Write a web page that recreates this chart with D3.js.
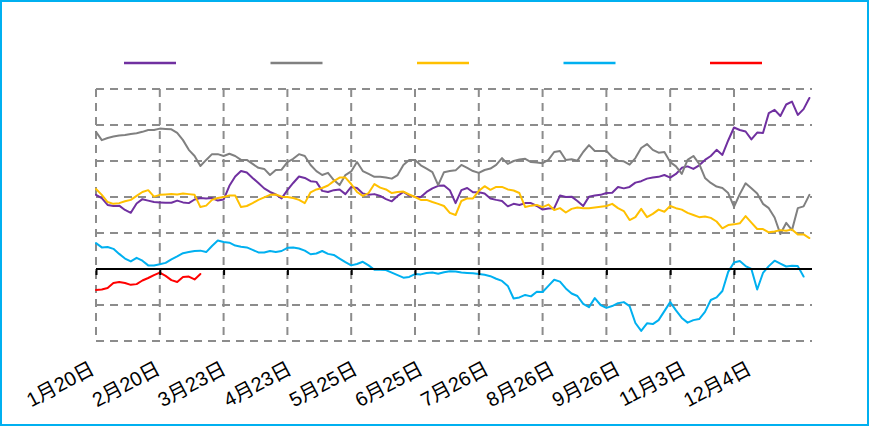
<!DOCTYPE html>
<html>
<head>
<meta charset="utf-8">
<script src="https://cdn.jsdelivr.net/npm/d3@7"></script>
<style>
  html, body { margin: 0; padding: 0; background: #fff; }
  svg { display: block; }
</style>
</head>
<body>
<svg id="chart" width="869" height="426"></svg>
<script>
// Axis labels (one every 11 samples)
const dateLabels = ["1月20日", "2月20日", "3月23日", "4月23日", "5月25日", "6月25日",
                    "7月26日", "8月26日", "9月26日", "11月3日", "12月4日"];
const labelStep = 11;

// Series, one value per sample
const purpleValues = [
  20.6, 19.7, 17.8, 17.5, 17.6, 16.4, 15.6, 18.2, 19.4, 19.0,
  18.6, 18.5, 18.4, 18.4, 19.0, 18.5, 18.3, 19.3, 19.7, 19.6,
  19.7, 19.0, 19.3, 23.1, 25.7, 27.2, 26.8, 25.3, 23.9, 22.4,
  21.4, 20.7, 19.6, 21.9, 23.9, 25.7, 25.3, 24.4, 24.2, 21.7,
  21.4, 21.9, 22.1, 20.8, 22.8, 22.5, 21.0, 20.6, 20.8, 20.3,
  19.4, 18.8, 20.3, 21.4, 20.4, 20.1, 20.0, 21.4, 22.4, 23.1,
  23.2, 21.9, 18.3, 21.9, 22.5, 21.3, 21.3, 21.0, 19.6, 19.2,
  18.9, 17.4, 18.1, 17.8, 18.3, 18.3, 17.5, 16.5, 16.8, 16.9,
  20.4, 20.0, 20.1, 18.9, 17.5, 20.1, 20.4, 20.6, 21.1, 21.2,
  22.8, 22.4, 22.8, 24.0, 24.4, 25.1, 25.4, 25.6, 26.1, 25.4,
  26.4, 28.1, 28.5, 27.8, 28.8, 30.3, 31.4, 33.1, 31.7, 35.7,
  39.3, 38.6, 38.2, 36.0, 37.9, 37.8, 43.3, 44.2, 42.5, 45.7,
  46.5, 42.8, 44.4, 47.5
];
const grayValues = [
  38.1, 35.8, 36.4, 36.8, 37.1, 37.2, 37.5, 37.7, 38.1, 38.6,
  38.6, 39.0, 38.9, 38.8, 37.8, 35.8, 33.1, 31.4, 28.6, 30.3,
  31.9, 31.9, 31.4, 32.0, 31.4, 30.3, 30.3, 29.2, 28.1, 27.8,
  26.1, 27.5, 27.6, 29.7, 30.6, 31.9, 31.4, 28.9, 27.2, 26.1,
  26.7, 24.7, 23.3, 26.1, 27.1, 29.7, 27.2, 26.4, 25.6, 25.6,
  25.4, 25.1, 26.1, 28.9, 30.3, 30.3, 28.8, 27.9, 26.9, 23.3,
  26.9, 27.2, 27.4, 28.9, 28.1, 27.2, 26.7, 27.5, 27.9, 28.9,
  30.8, 29.2, 30.0, 30.4, 30.6, 29.7, 29.6, 29.4, 30.3, 32.5,
  32.8, 30.3, 30.5, 30.1, 32.5, 34.4, 32.8, 32.8, 32.8, 31.1,
  30.1, 29.9, 29.0, 30.8, 33.6, 34.7, 33.1, 32.3, 32.5, 29.7,
  28.5, 26.4, 30.3, 31.4, 29.2, 25.3, 23.9, 22.9, 22.5, 21.1,
  17.3, 20.8, 23.8, 22.4, 21.0, 18.1, 16.9, 14.3, 9.7, 12.8,
  10.8, 16.9, 17.4, 20.6
];
const yellowValues = [
  22.2, 20.6, 18.6, 18.1, 18.3, 18.8, 19.2, 20.3, 21.4, 21.9,
  20.1, 20.6, 20.7, 20.8, 20.7, 21.0, 20.8, 20.6, 17.2, 17.6,
  19.2, 19.7, 20.0, 20.4, 20.4, 17.2, 17.5, 18.3, 19.2, 19.9,
  20.6, 20.7, 20.1, 20.0, 19.7, 19.2, 18.3, 21.3, 22.1, 22.5,
  23.2, 24.4, 25.4, 25.4, 23.6, 21.4, 20.3, 21.1, 23.6, 22.6,
  22.1, 21.1, 21.4, 21.5, 20.7, 20.0, 19.2, 19.2, 18.6, 18.1,
  17.5, 15.6, 15.0, 18.9, 19.6, 19.6, 21.7, 23.0, 22.0, 22.8,
  22.8, 22.1, 21.8, 21.1, 17.2, 17.6, 17.8, 17.2, 17.9, 16.4,
  16.9, 15.7, 16.7, 17.1, 16.9, 16.9, 17.1, 17.3, 17.5, 18.1,
  16.9, 16.1, 13.6, 14.4, 16.7, 14.4, 15.3, 16.5, 15.9, 17.5,
  16.9, 16.5, 15.6, 15.0, 14.4, 14.6, 14.2, 13.2, 11.3, 12.2,
  12.4, 12.7, 14.7, 12.9, 11.1, 11.1, 10.2, 10.4, 10.8, 10.6,
  11.0, 9.6, 9.6, 8.6
];
const cyanValues = [
  7.2, 6.0, 6.1, 5.6, 4.2, 2.9, 2.1, 3.1, 2.3, 1.0,
  1.0, 1.3, 1.7, 2.7, 3.5, 4.4, 4.7, 5.0, 5.1, 4.7,
  6.4, 7.9, 7.5, 7.3, 6.5, 6.2, 6.0, 5.3, 4.6, 4.6,
  5.0, 4.7, 5.0, 5.9, 6.0, 5.7, 5.1, 4.1, 4.3, 5.0,
  4.2, 3.9, 2.9, 1.9, 1.0, 1.4, 2.0, 1.0, -0.2, -0.2,
  -0.3, -1.0, -1.7, -2.4, -2.2, -1.4, -1.5, -1.1, -1.0, -1.3,
  -0.9, -0.6, -0.7, -1.0, -1.1, -1.2, -1.4, -1.6, -2.0, -2.7,
  -3.3, -4.7, -8.2, -7.9, -7.2, -7.6, -6.3, -6.4, -4.7, -3.0,
  -3.5, -5.4, -6.8, -7.5, -9.7, -10.6, -8.1, -10.0, -10.8, -10.3,
  -9.5, -9.2, -10.3, -15.0, -17.2, -15.1, -15.3, -14.2, -11.7, -9.2,
  -11.5, -13.6, -14.9, -14.2, -13.9, -11.9, -8.6, -7.9, -6.1, -0.8,
  1.8, 2.2, 0.8, 0.0, -5.7, -1.1, 0.8, 2.3, 1.5, 0.7,
  0.9, 0.8, -2.1
];
const redValues = [
  -5.8, -5.7, -5.3, -3.9, -3.6, -3.9, -4.4, -4.2, -3.2, -2.5,
  -1.7, -1.0, -1.9, -3.1, -3.6, -2.2, -2.1, -2.9, -1.4
];

const seriesColors = ["#7030a0", "#808080", "#ffc000", "#00b0f0", "#ff0000"];
const seriesList = [purpleValues, grayValues, yellowValues, cyanValues, redValues];

const yTicks = [-20, -10, 0, 10, 20, 30, 40, 50];

const W = 869, H = 426;
const svg = d3.select("#chart");

// outer frame
svg.append("rect")
  .attr("x", 1).attr("y", 1).attr("width", W - 2).attr("height", H - 2)
  .attr("fill", "#fff").attr("stroke", "#00b0f0").attr("stroke-width", 2);

const plot = { left: 96, right: 812, top: 89, bottom: 341 };
const x = d3.scaleLinear().domain([0, 123.45]).range([plot.left, plot.right]);
const y = d3.scaleLinear().domain([-20, 50]).range([plot.bottom, plot.top]);

const tickIdx = d3.range(0, dateLabels.length * labelStep, labelStep);
const grid = svg.append("g")
  .attr("stroke", "#8c8c8c").attr("stroke-width", 2)
  .attr("stroke-dasharray", "8,6").attr("fill", "none");

// horizontal gridlines
grid.selectAll("line.h").data(yTicks.filter(v => v !== 0)).join("line")
  .attr("class", "h")
  .attr("x1", plot.left).attr("x2", plot.right)
  .attr("y1", d => y(d)).attr("y2", d => y(d));

// vertical gridlines
grid.selectAll("line.v").data(tickIdx).join("line")
  .attr("class", "v")
  .attr("x1", d => x(d)).attr("x2", d => x(d))
  .attr("y1", y(50)).attr("y2", y(-20));

// series lines
const line = d3.line().x((d, i) => x(i)).y(d => y(d)).curve(d3.curveLinear);
svg.append("g").selectAll("path").data(seriesList).join("path")
  .attr("d", d => line(d))
  .attr("fill", "none")
  .attr("stroke", (d, i) => seriesColors[i])
  .attr("stroke-width", 2)
  .attr("stroke-linejoin", "round")
  .attr("stroke-linecap", "round");

// zero axis with ticks
const xAxis = d3.axisBottom(x).tickValues(tickIdx).tickSize(6).tickFormat("");
const axisG = svg.append("g").attr("transform", `translate(0,${y(0)})`).call(xAxis);
axisG.select(".domain").attr("stroke", "#000").attr("stroke-width", 2)
  .attr("d", `M${plot.left},0H${plot.right}`);
axisG.selectAll(".tick line").attr("stroke", "#000").attr("stroke-width", 2);

// date labels
const labelPos = d3.scalePoint().domain(dateLabels).range([96, 753]);
svg.append("g").selectAll("text").data(dateLabels).join("text")
  .attr("transform", d => `translate(${labelPos(d)},373) rotate(-28)`)
  .attr("text-anchor", "end")
  .attr("font-family", "'Liberation Sans', 'Noto Sans CJK SC', sans-serif")
  .attr("font-size", 20)
  .attr("fill", "#000")
  .text(d => d);

// legend swatches
const legendX = d3.scaleBand().domain(d3.range(seriesColors.length)).range([124, 856.5]);
svg.append("g").selectAll("line").data(seriesColors).join("line")
  .attr("x1", (d, i) => legendX(i)).attr("x2", (d, i) => legendX(i) + 52)
  .attr("y1", 63).attr("y2", 63)
  .attr("stroke", d => d).attr("stroke-width", 2.5);
</script>
</body>
</html>
